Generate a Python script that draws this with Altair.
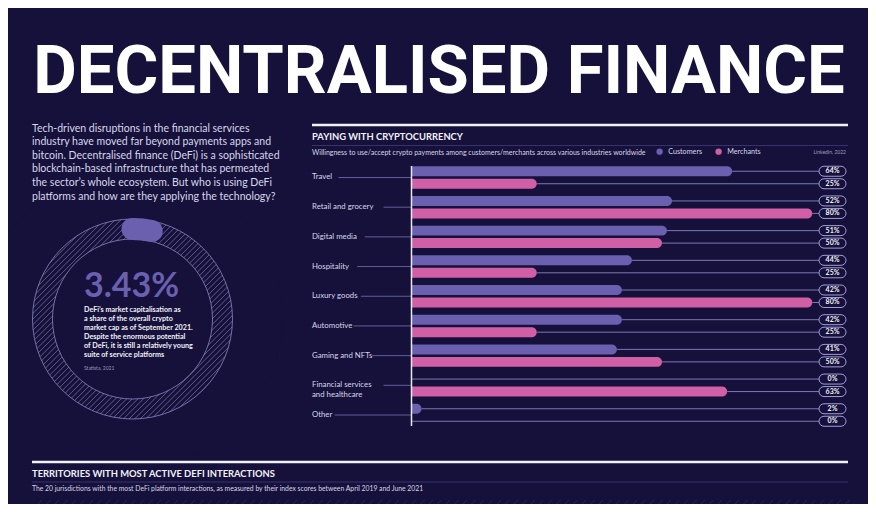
import altair as alt
import pandas as pd
import numpy as np

# ---------------- data ----------------
title_text = "DECENTRALISED FINANCE"
intro_lines = [
    "Tech-driven disruptions in the financial services",
    "industry have moved far beyond payments apps and",
    "bitcoin. Decentralised finance (DeFi) is a sophisticated",
    "blockchain-based infrastructure that has permeated",
    "the sector\u2019s whole ecosystem. But who is using DeFi",
    "platforms and how are they applying the technology?",
]
share_value = [3.43]
share_lines = [
    "DeFi\u2019s market capitalisation as",
    "a share of the overall crypto",
    "market cap as of September 2021.",
    "Despite the enormous potential",
    "of DeFi, it is still a relatively young",
    "suite of service platforms",
]
share_source = "Statista, 2021"

chart_title = "PAYING WITH CRYPTOCURRENCY"
chart_subtitle = ("Willingness to use/accept crypto payments among customers/merchants "
                  "across various industries worldwide")
chart_source = "LinkedIn, 2022"
series = ["Customers", "Merchants"]
categories = ["Travel", "Retail and grocery", "Digital media", "Hospitality",
              "Luxury goods", "Automotive", "Gaming and NFTs",
              "Financial services\nand healthcare", "Other"]
customers = [64, 52, 51, 44, 42, 42, 41, 0, 2]
merchants = [25, 80, 50, 25, 80, 25, 50, 63, 0]

bottom_title = "TERRITORIES WITH MOST ACTIVE DEFI INTERACTIONS"
bottom_subtitle = ("The 20 jurisdictions with the most DeFi platform interactions, as measured "
                   "by their index scores between April 2019 and June 2021")

# ---------------- style ----------------
BG = "#15113b"
PURPLE = "#6b5fb0"
PINK = "#d05fa6"
WHITE = "#f2f1f8"
SOFT = "#d8d6ea"
LINE = "#6d67a3"
FONT = "Lato"
W, H = 860, 496

# ---------------- tables ----------------
bars = pd.DataFrame({
    "category": categories * 2,
    "series": [series[0]] * len(categories) + [series[1]] * len(categories),
    "value": customers + merchants,
})
bars["label"] = bars["value"].astype(str) + "%"

cats = pd.DataFrame({"category": categories})
cats["lx"] = [304 + 3.75 * max(len(s) for s in c.split("\n")) + 4 for c in categories]

xs = alt.Scale(domain=[0, 100], range=[403.5, 904.5])
ys = alt.Scale(type="band", domain=categories, range=[154.65, 421.85],
               paddingInner=0, paddingOuter=0)
yos = alt.Scale(type="band", domain=series, paddingInner=0.2, paddingOuter=0.288)

Y = alt.Y("category:N", scale=ys, axis=None)
YO = alt.YOffset("series:N", scale=yos)


def txt(text, x, y, size, color=WHITE, weight="normal", align="left", font=FONT,
        baseline="alphabetic", **kw):
    return alt.Chart(pd.DataFrame({"t": [text]})).mark_text(
        align=align, baseline=baseline, fontSize=size, font=font, fontWeight=weight,
        color=color, **kw
    ).encode(text="t:N", x=alt.value(x), y=alt.value(y))


def hline(x1, x2, y, color, width):
    return alt.Chart(pd.DataFrame({"a": [0]})).mark_rule(
        color=color, strokeWidth=width
    ).encode(x=alt.value(x1), x2=alt.value(x2), y=alt.value(y))


# ---------------- ring (decor) ----------------
cx, cy, R_out, R_in = 124.5, 311, 100, 80
B = R_out + 3
hatch = []
for d in np.arange(-2 * B, 2 * B, 5.6):
    u1, u2 = max(-B, d - B), min(B, d + B)
    hatch.append({"x": cx + u1, "y": cy + d - u1, "x2": cx + u2, "y2": cy + d - u2})
hatch = pd.DataFrame(hatch)

ring_hatch = alt.Chart(hatch).mark_rule(color="#9a94cf", strokeWidth=0.7, opacity=0.8).encode(
    x=alt.X("x:Q", scale=None), y=alt.Y("y:Q", scale=None),
    x2="x2:Q", y2="y2:Q")
mask_out = alt.Chart(pd.DataFrame({"a": [0]})).mark_arc(
    innerRadius=R_out, outerRadius=150, theta=0, theta2=2 * np.pi, fill=BG
).encode(x=alt.value(cx), y=alt.value(cy))
mask_in = alt.Chart(pd.DataFrame({"a": [0]})).mark_arc(
    innerRadius=0, outerRadius=R_in, theta=0, theta2=2 * np.pi, fill=BG
).encode(x=alt.value(cx), y=alt.value(cy))
ring_edges = alt.Chart(pd.DataFrame({"s": [(2 * R_out) ** 2, (2 * R_in) ** 2]})).mark_point(
    shape="circle", filled=False, color="#9a94cf", strokeWidth=0.8, opacity=0.9
).encode(x=alt.value(cx), y=alt.value(cy), size=alt.Size("s:Q", scale=None, legend=None))

share_df = pd.DataFrame({"v": share_value})
share_df["t"] = share_df["v"].map(lambda v: f"{v}%")
share_arc = alt.Chart(share_df).mark_arc(
    innerRadius=90, outerRadius=90, fill=PURPLE, stroke=PURPLE, strokeWidth=22,
    strokeJoin="round"
).encode(
    theta=alt.Theta("v:Q", scale=alt.Scale(domain=[0, 100], range=[0, 2 * np.pi])),
    x=alt.value(cx), y=alt.value(cy))
share_big = alt.Chart(share_df).mark_text(
    align="left", fontSize=34, font=FONT, fontWeight="bold", color=PURPLE
).encode(text="t:N", x=alt.value(76), y=alt.value(279))

# ---------------- texts ----------------
main_title = txt(title_text, 431, 85, 67, color="#ffffff", weight="bold",
                 align="center", font="Roboto")
intro = txt("\n".join(intro_lines), 24, 123.5, 10.5, color=SOFT, lineBreak="\n",
            lineHeight=13.6)
share_text = txt("\n".join(share_lines), 76, 304, 7.2, color=WHITE, weight="bold",
                 lineBreak="\n", lineHeight=9.0)
share_src = txt(share_source, 76, 362, 5, color="#9a96b8")

# right chart header
top_rule = hline(304, 840, 117, WHITE, 2.5)
c_title = txt(chart_title, 304, 132, 9.4, weight="bold")
c_sep = hline(304, 840, 137.5, "#37326c", 1)
c_sub = txt(chart_subtitle, 304, 146.5, 7, color=SOFT)
c_src = txt(chart_source, 838, 146, 5, color="#a09cc0", align="right")

# ---------------- bar chart ----------------
axis_line = alt.Chart(pd.DataFrame({"a": [0]})).mark_rule(
    color="#e9e7f5", strokeWidth=1.5
).encode(x=alt.value(403.5), y=alt.value(158), y2=alt.value(418))

cat_lines = alt.Chart(cats).mark_rule(color=LINE, strokeWidth=0.9).encode(
    x=alt.X("lx:Q", scale=None), x2=alt.value(403), y=Y)
cat_text = alt.Chart(cats).mark_text(
    align="left", baseline="middle", fontSize=7.8, font=FONT, color=SOFT,
    lineBreak="\n", lineHeight=9.5
).encode(x=alt.value(304), y=Y, text="category:N")

connectors = alt.Chart(bars).mark_rule(color="#8983c2", strokeWidth=0.9).encode(
    x=alt.X("value:Q", scale=xs, axis=None), x2=alt.value(811), y=Y, yOffset=YO)

bar_layer = alt.Chart(bars).transform_filter("datum.value > 0").mark_bar(
    cornerRadiusEnd=5
).encode(
    x=alt.X("value:Q", scale=xs, axis=None, stack=None),
    y=Y, yOffset=YO,
    color=alt.Color("series:N", scale=alt.Scale(domain=series, range=[PURPLE, PINK]),
                    legend=alt.Legend(orient="none", legendX=648, legendY=140,
                                      direction="horizontal", title=None,
                                      symbolType="circle", symbolSize=40,
                                      symbolStrokeWidth=0, labelColor=SOFT,
                                      labelFontSize=7.2, labelFont=FONT,
                                      columnPadding=12, labelOffset=5, padding=0)),
)

pills = alt.Chart(bars).mark_rect(
    fill=BG, stroke="#a49ed8", strokeWidth=1, cornerRadius=5
).encode(x=alt.value(811), x2=alt.value(838), y=Y, yOffset=YO)
pill_text = alt.Chart(bars).mark_text(
    align="center", baseline="middle", fontSize=7, font=FONT, fontWeight="bold",
    color=WHITE
).encode(x=alt.value(824.5), y=Y, yOffset=YO, text="label:N")

# ---------------- bottom section ----------------
b_rule = hline(24, 840, 454, WHITE, 2.5)
b_title = txt(bottom_title, 24, 469, 9.4, weight="bold")
b_sep = hline(24, 840, 474, "#37326c", 1)
b_sub = txt(bottom_subtitle, 24, 482.5, 6.8, color=SOFT)

bh = pd.DataFrame({"x": np.arange(26, 840, 8.5)})
bh["x2"] = bh["x"] + 8
b_hatch = alt.Chart(bh).mark_rule(color="#2e2960", strokeWidth=0.8).encode(
    x=alt.X("x:Q", scale=None), x2="x2:Q", y=alt.value(500), y2=alt.value(492))

chart = alt.layer(
    ring_hatch, mask_out, mask_in, ring_edges, share_arc, share_big,
    main_title, intro, share_text, share_src,
    top_rule, c_title, c_sep, c_sub, c_src,
    cat_lines, cat_text, connectors, bar_layer, axis_line, pills, pill_text,
    b_rule, b_title, b_sep, b_sub, b_hatch,
).properties(
    width=W, height=H, background=BG, padding=0,
    autosize=alt.AutoSizeParams(type="none"),
).configure_view(stroke=None)

chart.save("out.html", embed_options={"renderer": "svg", "actions": False})
